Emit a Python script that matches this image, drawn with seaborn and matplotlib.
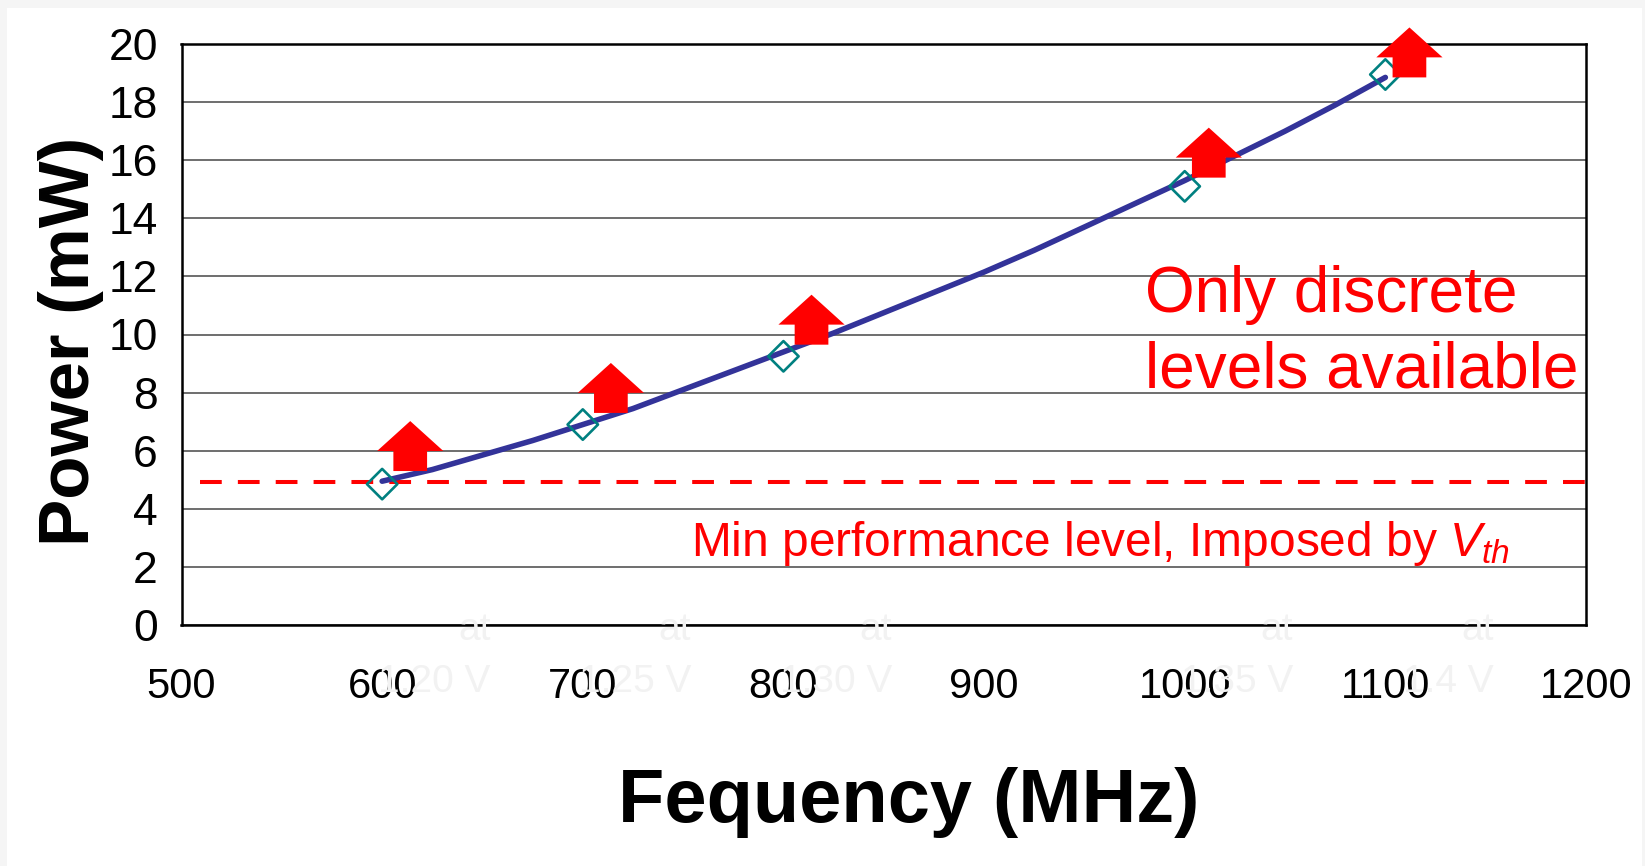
import matplotlib
matplotlib.use("Agg")
import matplotlib.pyplot as plt
from matplotlib.patches import FancyArrow, Rectangle
import seaborn as sns
import pandas as pd

# ---- data ----
curve_freq = [600, 625, 650, 675, 700, 725, 750, 775, 800, 825, 850, 875, 900,
              925, 950, 975, 1000, 1025, 1050, 1075, 1100]
curve_power = [4.95, 5.35, 5.85, 6.35, 6.9, 7.45, 8.1, 8.75, 9.4, 10.05, 10.75,
               11.45, 12.15, 12.9, 13.7, 14.5, 15.3, 16.15, 17.0, 17.9, 18.85]

level_freq = [600, 700, 800, 1000, 1100]
level_power = [4.85, 6.9, 9.25, 15.1, 18.95]
level_voltage = ["1.20 V", "1.25 V", "1.30 V", "1.35 V", "1.4 V"]

arrow_freq = [614, 714, 814, 1012, 1112]
arrow_base = [5.3, 7.3, 9.65, 15.4, 18.85]

min_level_freq = [509, 1203]
min_level_power = [4.93, 4.93]

x_ticks = [500, 600, 700, 800, 900, 1000, 1100, 1200]
y_ticks = [0, 2, 4, 6, 8, 10, 12, 14, 16, 18, 20]

note_lines = ["Only discrete", "levels available"]
min_label = "Min performance level, Imposed by $V_{th}$"

# ---- style ----
sns.set_theme(style="white")
plt.rcParams["font.family"] = ["Liberation Sans", "DejaVu Sans"]
plt.rcParams["mathtext.fontset"] = "custom"
plt.rcParams["mathtext.it"] = "Liberation Sans:italic"
plt.rcParams["mathtext.rm"] = "Liberation Sans"

fig = plt.figure(figsize=(16.45, 8.66), dpi=100, facecolor="#f5f5f5")
fig.patches.append(Rectangle((7 / 1645, 0), (1642 - 7) / 1645, (866 - 8) / 866,
                             transform=fig.transFigure, facecolor="white",
                             edgecolor="none", zorder=-10))
ax = fig.add_axes([181.5 / 1645, 1 - 625 / 866, (1586 - 181.5) / 1645, (625 - 44) / 866])
ax.set_zorder(1)
ax.set_facecolor("white")

curve = pd.DataFrame({"freq": curve_freq, "power": curve_power})
levels = pd.DataFrame({"freq": level_freq, "power": level_power})
minlvl = pd.DataFrame({"freq": min_level_freq, "power": min_level_power})

sns.lineplot(data=minlvl, x="freq", y="power", ax=ax, color="#ff0000",
             linewidth=2.9, zorder=3)
dash_line = ax.lines[-1]
dash_line.set_linewidth(2.9)
dash_line.set_dashes([5.4, 4.0])
dash_line.set_clip_on(False)

sns.lineplot(data=curve, x="freq", y="power", ax=ax, color="#333399",
             linewidth=4.0, zorder=4)
ax.lines[-1].set_linewidth(4.0)
ax.lines[-1].set_solid_capstyle("round")
sns.scatterplot(data=levels, x="freq", y="power", ax=ax, marker="D", s=240,
                facecolor="none", edgecolor="#008080", linewidth=1.9, zorder=5)

for xf, yb in zip(arrow_freq, arrow_base):
    ax.add_patch(FancyArrow(xf, yb, 0, 1.72, width=16.8, head_width=33,
                            head_length=1.03, length_includes_head=True,
                            facecolor="#ff0000", edgecolor="none",
                            zorder=6, clip_on=False))

ax.set_xlim(500, 1200)
ax.set_ylim(0, 20)
ax.set_xticks(x_ticks)
ax.set_yticks(y_ticks)
ax.tick_params(axis="both", colors="black", direction="out")
ax.tick_params(axis="x", labelsize=30, length=10, width=1.0, pad=20)
ax.tick_params(axis="y", labelsize=32, length=9, width=1.0, pad=8)
ax.yaxis.grid(True, color="#555555", lw=1.2)
ax.xaxis.grid(False)
for s in ax.spines.values():
    s.set_color("black")
    s.set_linewidth(1.8)
    s.set_visible(True)

ax.set_xlabel("Fequency (MHz)", fontsize=54.5, fontweight="bold", color="black")
ax.set_ylabel("Power (mW)", fontsize=51, fontweight="bold", color="black")
ax.xaxis.set_label_coords(0.518, -0.306)
ax.xaxis.label.set_va("center")
ax.yaxis.set_label_coords(-0.0787, 0.489)
ax.yaxis.label.set_va("center")

ax.text(980, 10.78, note_lines[0], fontsize=46, color="#ff0000", va="baseline",
        ha="left", zorder=7)
ax.text(980, 8.19, note_lines[1], fontsize=46, color="#ff0000", va="baseline",
        ha="left", zorder=7)
ax.text(754, 2.38, min_label, fontsize=34.5, color="#ff0000", va="baseline",
        ha="left", zorder=7)

for xf, v in zip(level_freq, level_voltage):
    ax.text(xf + 54, -0.52, "at", fontsize=28, color="#f2f2f2", ha="right",
            va="baseline", zorder=8, clip_on=False)
    ax.text(xf + 54, -2.31, v, fontsize=28, color="#f2f2f2", ha="right",
            va="baseline", zorder=8, clip_on=False)

fig.savefig("out.png", dpi=100, facecolor=fig.get_facecolor())
